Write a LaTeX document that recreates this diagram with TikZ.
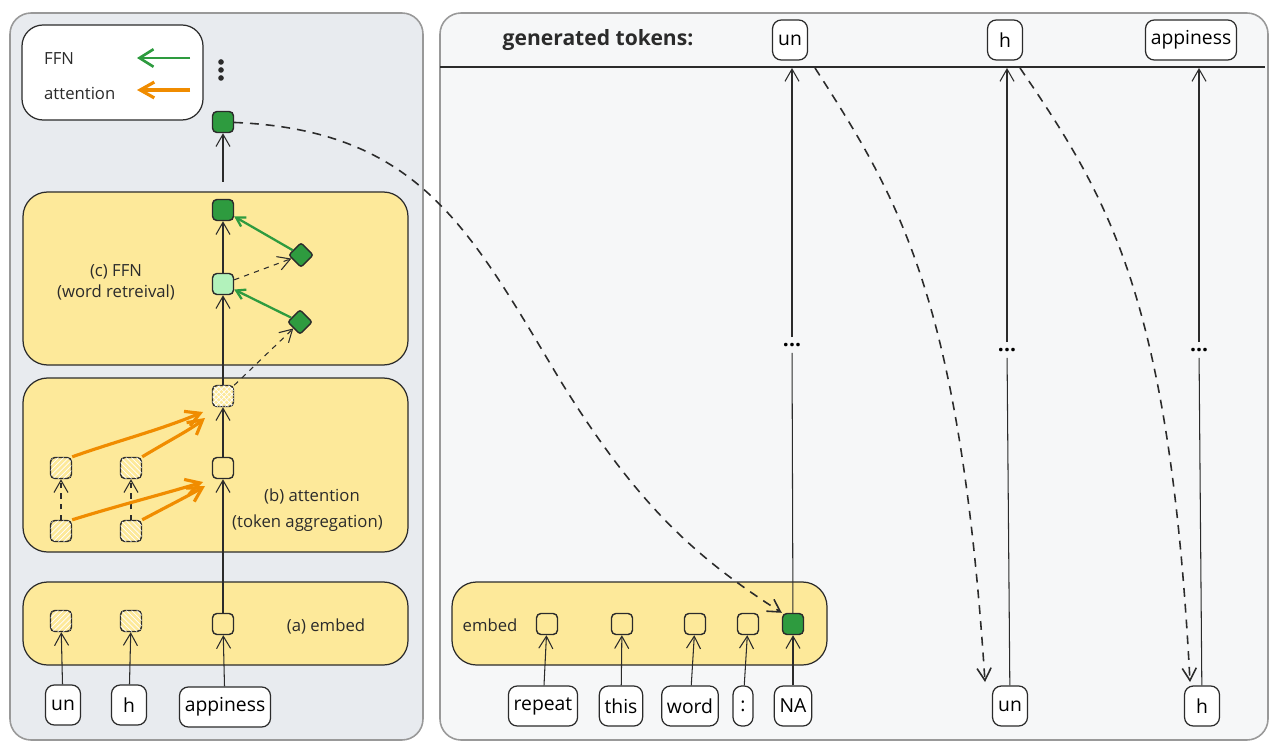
\documentclass[tikz,border=0pt]{standalone}
\usepackage{fontspec}
\setmainfont{Open Sans}
\usetikzlibrary{arrows.meta,patterns,shapes.geometric}
\definecolor{panel}{HTML}{E8EBEF}
\definecolor{panelr}{HTML}{F6F7F8}
\definecolor{ylw}{HTML}{FDE99A}
\definecolor{dgreen}{HTML}{2E9B3F}
\definecolor{lgreen}{HTML}{B2F2BB}
\definecolor{ora}{HTML}{F08C00}
\definecolor{ink}{HTML}{2B2B2B}
\begin{document}
\begin{tikzpicture}[x=0.02cm,y=-0.02cm,
  pan/.style={draw=gray!80,line width=0.9pt,rounded corners=12pt},
  lay/.style={draw=ink,fill=ylw,line width=0.7pt,rounded corners=14pt},
  sq/.style={draw=ink,line width=0.8pt,rounded corners=2.5pt,minimum size=0.42cm,inner sep=0pt},
  hatch/.style={sq,fill=ylw,postaction={pattern=north east lines,pattern color=white}},
  hatchb/.style={sq,fill=ylw,postaction={pattern=north west lines,pattern color=white}},
  hatchc/.style={sq,fill=ylw,postaction={pattern=crosshatch,pattern color=white}},
  dia/.style={draw=ink,fill=dgreen,diamond,minimum size=0.5cm,inner sep=0pt,line width=0.8pt,rounded corners=1.5pt},
  tok/.style={draw=ink,fill=white,rounded corners=5pt,line width=0.7pt,minimum height=0.8cm,minimum width=0.7cm,inner xsep=3pt,font=\fontsize{11}{13}\selectfont},
  lbl/.style={font=\fontsize{9.5}{12}\selectfont,text=ink,align=center},
  ar/.style={draw=ink,line width=0.6pt,-{Straight Barb[length=7pt,width=8pt]}},
  dar/.style={ar,dashed,line width=0.9pt,dash pattern=on 5pt off 4pt},
  gar/.style={draw=dgreen,line width=1.3pt,-{Straight Barb[length=5pt,width=6pt]}},
  oar/.style={draw=ora,line width=1.8pt,-{Straight Barb[length=8pt,width=9pt]}}]
\useasboundingbox (0,0) rectangle (1277,753);
% panels
\draw[pan,fill=panel] (10,13) rectangle (423,740);
\draw[pan,fill=panelr] (440,13) rectangle (1268,740);
\draw[ink,line width=0.9pt] (440,67) -- (1265,67);
% legend
\draw[draw=ink,fill=white,rounded corners=12pt,line width=0.7pt] (22,25) rectangle (203,120);
\node[lbl,anchor=west] (lffn) at (38,59) {FFN};
\node[lbl,anchor=west] (latt) at (38,93) {attention};
\coordinate (g1) at (190,58); \coordinate (g2) at (137,58);
\coordinate (o1) at (190,90); \coordinate (o2) at (137,90);
\draw[gar,line width=1.5pt,-{Straight Barb[length=8pt,width=10pt]}] (g1) -- (g2);
\draw[oar] (o1) -- (o2);
\foreach \y in {62,70,78} \fill[ink] (221,\y) circle (1.6pt);
% layers
\draw[lay] (23,192) rectangle (408,365);
\draw[lay] (23,378) rectangle (408,552);
\draw[lay] (23,582) rectangle (408,665);
\draw[lay] (452,582) rectangle (827,665);
% left nodes
\node[sq,fill=dgreen] (top) at (223,122) {};
\node[sq,fill=dgreen] (f2) at (223,210) {};
\node[sq,fill=lgreen] (f1) at (223,284) {};
\node[dia] (d2) at (301,255) {};
\node[dia] (d1) at (300,322) {};
\node[lbl] at (116,282) {(c) FFN\\(word retreival)};
\node[hatchc] (a2) at (223,396) {};
\node[sq] (a1) at (223,468) {};
\node[hatch] (u2) at (61,468) {};
\node[hatchb] (h2) at (131,468) {};
\node[hatch] (u1) at (61,531) {};
\node[hatchb] (h1) at (131,531) {};
\node[lbl,anchor=west] at (258,496) {(b) attention};
\node[lbl,anchor=west] at (226,523) {(token aggregation)};
\node[hatch] (ue) at (61,621) {};
\node[hatchb] (he) at (131,621) {};
\node[sq] (ae) at (223,624) {};
\node[lbl] at (326,626) {(a) embed};
\node[tok] (tu) at (63,705) {un};
\node[tok] (th) at (129,705) {h};
\node[tok] (ta) at (225,707) {appiness};
\coordinate (ab) at (223,182);
% left arrows
\draw[ar] (tu) -- (ue); \draw[ar] (th) -- (he); \draw[ar] (ta) -- (ae);
\draw[ar] (ae) -- (a1); \draw[ar] (a1) -- (a2);
\draw[ar] (a2) -- (f1); \draw[ar] (f1) -- (f2);
\draw[ar] (ab) -- (top);
\draw[ar,dashed,dash pattern=on 3pt off 3pt] (u1) -- (u2);
\draw[ar,dashed,dash pattern=on 3pt off 3pt] (h1) -- (h2);
\draw[ar,dashed] (a2) -- (d1);
\draw[ar,dashed] (f1) -- (d2);
\draw[gar] (d2) -- (f2);
\draw[gar] (d1) -- (f1);
\draw[oar] (u2.north east) .. controls (120,440) and (160,430) .. (203,412);
\draw[oar] (h2.north east) .. controls (170,440) and (190,430) .. (205,418);
\draw[oar] (u1.north east) .. controls (120,505) and (160,495) .. (203,482);
\draw[oar] (h1.north east) .. controls (170,505) and (190,495) .. (205,486);
% right
\node[font=\fontsize{12}{14}\selectfont\bfseries,text=ink] at (598,40) {generated tokens:};
\node[tok] (gu) at (790,40) {un};
\node[tok] (gh) at (1005,40) {h};
\node[tok] (ga) at (1191,40) {appiness};
\node[lbl] at (490,625) {embed};
\node[sq] (e1) at (547,624) {};
\node[sq] (e2) at (622,624) {};
\node[sq] (e3) at (695,624) {};
\node[sq] (e4) at (748,624) {};
\node[sq,fill=dgreen] (e5) at (793,624) {};
\node[tok] (r1) at (543,706) {repeat};
\node[tok] (r2) at (621,706) {this};
\node[tok] (r3) at (690,706) {word};
\node[tok,minimum width=0.4cm] (r4) at (743,706) {:};
\node[tok] (r5) at (793,706) {NA};
\node[tok] (bu) at (1010,706) {un};
\node[tok] (bh) at (1202,706) {h};
\foreach \a/\b in {r1/e1,r2/e2,r3/e3,r4/e4,r5/e5} \draw[ar] (\a) -- (\b);
% vertical columns
\node[font=\bfseries\fontsize{12}{14}\selectfont] (dd1) at (792,345) {...};
\node[font=\bfseries\fontsize{12}{14}\selectfont] (dd2) at (1007,350) {...};
\node[font=\bfseries\fontsize{12}{14}\selectfont] (dd3) at (1199,350) {...};
\coordinate (c1) at (792,68); \coordinate (c2) at (1007,68); \coordinate (c3) at (1199,68);
\draw[draw=ink,line width=0.6pt] (e5) -- (dd1);
\draw[ar] (dd1) -- (c1);
\draw[draw=ink,line width=0.6pt] (bu) -- (dd2);
\draw[ar] (dd2) -- (c2);
\draw[draw=ink,line width=0.6pt] (bh) -- (dd3);
\draw[ar] (dd3) -- (c3);
% dashed curves
\coordinate (k1) at (815,68); \coordinate (k2) at (1020,68);
\coordinate (m1) at (985,682); \coordinate (m2) at (1190,682);
\draw[dar] (top) .. controls (420,130) and (470,230) .. (560,380) .. controls (640,510) and (700,560) .. (e5.north west);
\draw[dar] (k1) .. controls (900,200) and (960,300) .. (m1);
\draw[dar] (k2) .. controls (1110,200) and (1170,300) .. (m2);
\end{tikzpicture}
\end{document}
